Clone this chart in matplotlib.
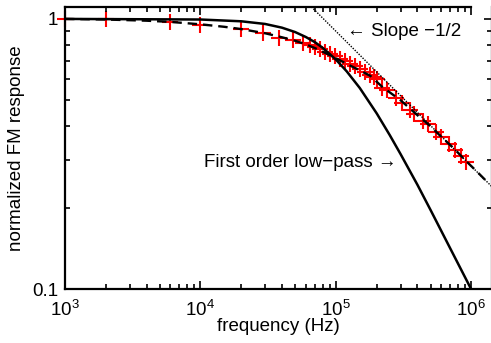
import matplotlib
matplotlib.use("Agg")
import matplotlib.pyplot as plt

plt.rcParams['font.family'] = ['Liberation Sans', 'DejaVu Sans']
plt.rcParams['mathtext.fontset'] = 'custom'
plt.rcParams['mathtext.rm'] = 'Liberation Sans'
plt.rcParams['mathtext.it'] = 'Liberation Sans:italic'

# measured points (red crosses)
meas_f = [1e3, 2e3, 6e3, 1e4, 2e4, 2.9e4, 3.8e4, 4.8e4, 5.7e4, 6.4e4, 7.0e4, 7.6e4,
          8.3e4, 9.0e4, 9.8e4, 1.07e5, 1.17e5, 1.27e5, 1.38e5, 1.5e5, 1.64e5, 1.78e5,
          1.9e5, 2.0e5, 2.2e5, 2.4e5, 2.8e5, 3.1e5, 3.5e5, 3.8e5, 4.4e5, 4.8e5,
          5.5e5, 6.0e5, 6.8e5, 7.6e5, 8.4e5, 9.1e5]
meas_v = [1.0, 1.0, 0.977, 0.95, 0.918, 0.887, 0.85, 0.836, 0.815, 0.80, 0.785, 0.772,
          0.757, 0.742, 0.728, 0.712, 0.697, 0.683, 0.668, 0.652, 0.638, 0.622,
          0.608, 0.598, 0.555, 0.545, 0.51, 0.49, 0.46, 0.445, 0.42, 0.41,
          0.38, 0.366, 0.345, 0.327, 0.31, 0.295]

# first order low-pass (solid)
lp_f = [1e3, 1e4, 2e4, 3e4, 4e4, 5e4, 6e4, 7e4, 8e4, 1e5, 1.2e5, 1.5e5, 2e5,
        2.5e5, 3e5, 4e5, 5e5, 7e5, 1e6]
lp_v = [1.0, 0.995, 0.98, 0.958, 0.928, 0.894, 0.857, 0.82, 0.781, 0.707, 0.64,
        0.555, 0.447, 0.371, 0.316, 0.243, 0.196, 0.141, 0.0995]

# model fit (dashed)
fit_f = [1e3, 2e3, 4e3, 6e3, 1e4, 1.5e4, 2e4, 3e4, 4e4, 5e4, 6e4, 7e4, 8.5e4, 1e5,
         1.25e5, 1.5e5, 1.8e5, 2.2e5, 3e5, 4e5, 5e5, 6e5, 7.5e5, 9e5, 1.1e6, 1.3e6]
fit_v = [1.0, 0.995, 0.985, 0.975, 0.955, 0.935, 0.917, 0.885, 0.855, 0.83, 0.805,
         0.78, 0.745, 0.715, 0.675, 0.645, 0.615, 0.56, 0.5, 0.44, 0.4, 0.366, 0.33,
         0.3, 0.272, 0.25]

# slope -1/2 asymptote (dotted)
asym_f = [5.0e4, 1.42e6]
asym_v = [1.273, 0.239]

fig = plt.figure(figsize=(4.91, 3.43), dpi=100)
ax = fig.add_axes([65/491, 1 - 289/343, 427/491, 282/343])

ax.plot(lp_f, lp_v, color='black', linewidth=1.8)
ax.plot(fit_f, fit_v, color='black', linewidth=1.7, linestyle=(0, (4, 2.5)))
ax.plot(asym_f, asym_v, color='black', linewidth=1.0, linestyle=(0, (1, 1)))
ax.plot(meas_f, meas_v, linestyle='none', marker='+', markersize=11,
        markeredgewidth=1.5, color='red', clip_on=False, zorder=1)

ax.set_xscale('log')
ax.set_yscale('log')
ax.set_xlim(1e3, 1.42e6)
ax.set_ylim(0.1, 1.107)
ax.set_yticks([0.1, 1])
ax.set_yticklabels(['0.1', '1'])

for s in ax.spines.values():
    s.set_linewidth(1.6)
ax.spines['top'].set_bounds(1e3, 1e6)

ax.tick_params(which='both', direction='in', top=True, right=True,
               labelsize=13.5, width=1.2)
ax.tick_params(which='major', length=6)
ax.tick_params(axis='x', which='major', pad=7.5)
ax.tick_params(axis='y', which='major', pad=5)
ax.tick_params(which='minor', length=3.5)

ax.set_xlabel('frequency (Hz)', fontsize=13.5, labelpad=-1)
ax.set_ylabel('normalized FM response', fontsize=13.5, labelpad=5)

ax.text(1.2e5, 0.895, '\u2190 Slope \u22121/2', fontsize=13.5, va='center', ha='left')
ax.text(1.07e4, 0.295, 'First order low\u2212pass \u2192', fontsize=13.5, va='center', ha='left')

fig.savefig('out.png', dpi=100)
